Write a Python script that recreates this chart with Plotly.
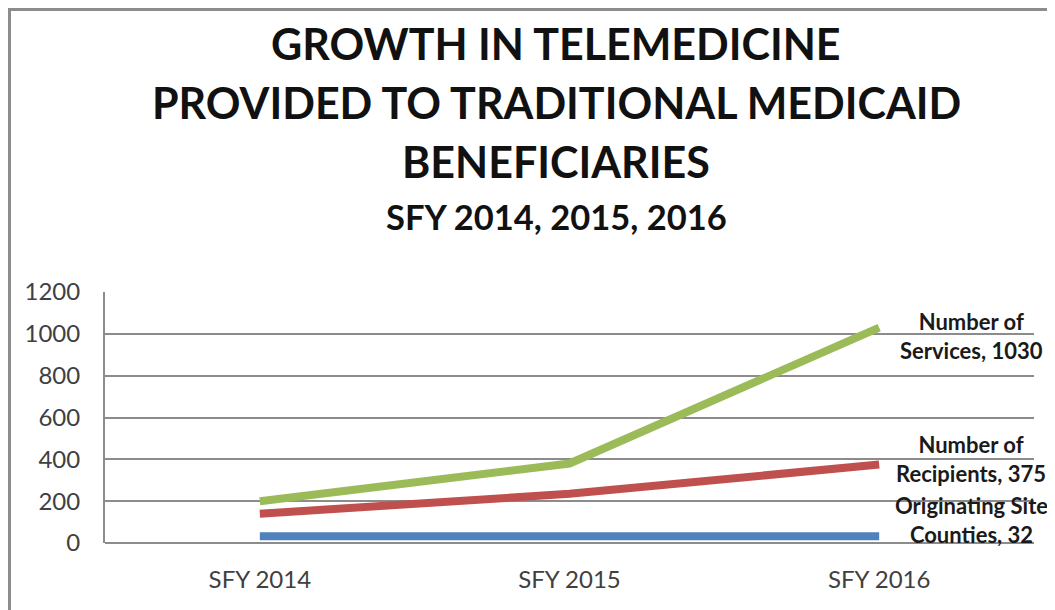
import plotly.graph_objects as go

categories = ["SFY 2014", "SFY 2015", "SFY 2016"]
services = [200, 380, 1030]
recipients = [140, 235, 375]
counties = [32, 32, 32]
y_ticks = [0, 200, 400, 600, 800, 1000, 1200]

series = [
    ("Originating Site<br>Counties", counties, "#4F81BD", 16),
    ("Number of<br>Recipients", recipients, "#C0504D", 6),
    ("Number of<br>Services", services, "#9BBB59", -8),
]

FONT = "Lato"
OFF = 8  # page body margin offset
W, H = 1055, 610
ML, MR, MT, MB = 105 - OFF, 29, 292 - OFF, 75
plot_w, plot_h = W - ML - MR, H - MT - MB


def px(x):
    return (x - ML) / plot_w


def py(y):
    return (H - MB - y) / plot_h


fig = go.Figure()
for name, vals, color, ysh in series:
    fig.add_trace(go.Scatter(x=categories, y=vals, mode="lines",
                             line=dict(color=color, width=8), name=name.replace("<br>", " "),
                             showlegend=False))
    fig.add_annotation(x=categories[-1], y=vals[-1], xref="x", yref="y",
                       text=f"{name}, {vals[-1]}", showarrow=False,
                       xshift=92, yshift=ysh, align="center",
                       font=dict(family=FONT, size=22, color="#1a1a1a", weight="bold"))

titles = [
    ("GROWTH IN TELEMEDICINE", 45, 43),
    ("PROVIDED TO TRADITIONAL MEDICAID", 104, 43),
    ("BENEFICIARIES", 163, 43),
    ("SFY 2014, 2015, 2016", 218, 34.5),
]
for t, yy, sz in titles:
    fig.add_annotation(x=px(556 - OFF), y=py(yy - OFF - 2),
                       xref="paper", yref="paper",
                       text=t, showarrow=False,
                       font=dict(family=FONT, size=sz, color="#111", weight="bold"),
                       yanchor="middle", xanchor="center")

border = dict(color="#8c8c8c", width=3)
fig.update_layout(
    width=W, height=H,
    margin=dict(l=ML, r=MR, t=MT, b=MB, autoexpand=False),
    paper_bgcolor="white", plot_bgcolor="white",
    xaxis=dict(type="category", range=[-0.5, 2.5], showgrid=False, showline=False, automargin=False,
               ticks="", tickfont=dict(family=FONT, size=24, color="#404040"), ticklabelstandoff=20),
    yaxis=dict(range=[0, 1200], tickvals=y_ticks, showgrid=True, gridcolor="#8c8c8c", gridwidth=2,
               automargin=False,
               showline=True, linecolor="#8c8c8c", linewidth=2, zeroline=True, zerolinecolor="#8c8c8c",
               zerolinewidth=2, ticks="", tickfont=dict(family=FONT, size=24, color="#404040"),
               ticklabelstandoff=18),
    shapes=[
        dict(type="line", xref="paper", yref="paper", x0=px(1.5), x1=px(1.5), y0=py(1.5), y1=py(H),
             line=border, layer="below"),
        dict(type="line", xref="paper", yref="paper", x0=px(0), x1=px(W), y0=py(1.5), y1=py(1.5),
             line=border, layer="below"),
    ],
)

fig.write_html("out.html")
